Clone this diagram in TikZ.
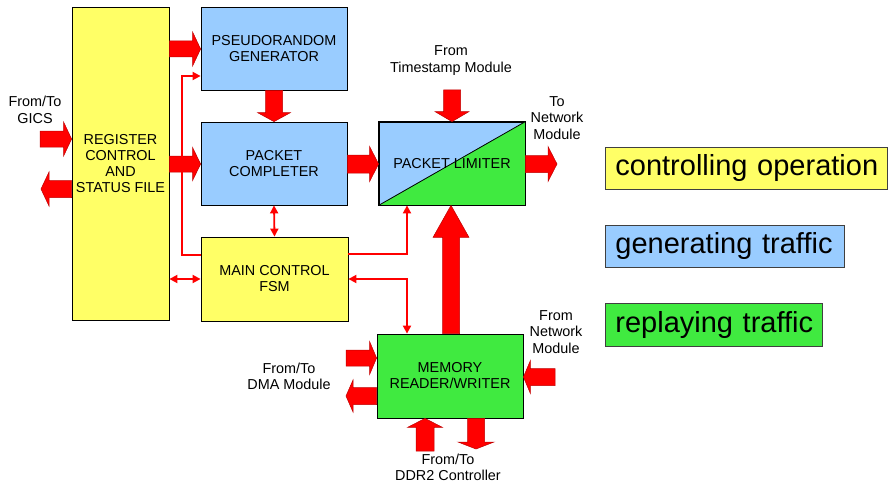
\documentclass[tikz,border=0pt]{standalone}
\usepackage{fontspec}
\setmainfont{Liberation Sans}
\usetikzlibrary{calc,arrows.meta}

\definecolor{ctrlyellow}{RGB}{255,255,102}
\definecolor{genblue}{RGB}{153,204,255}
\definecolor{repgreen}{RGB}{64,234,64}
\definecolor{fatred}{RGB}{255,0,0}

% fat block arrow: #1 start, #2 tip, #3 shaft half width, #4 head half width, #5 head length
\newcommand\fatarrow[5]{%
  \coordinate (fa-hb) at ($(#2)!#5pt!(#1)$);
  \filldraw[fill=fatred, draw=fatred!75!black, line width=0.5pt, line join=miter]
    ($(#1)!#3pt!90:(#2)$) -- ($(fa-hb)!#3pt!90:(#2)$) -- ($(fa-hb)!#4pt!90:(#2)$)
    -- (#2)
    -- ($(fa-hb)!#4pt!-90:(#2)$) -- ($(fa-hb)!#3pt!-90:(#2)$) -- ($(#1)!#3pt!-90:(#2)$)
    -- cycle;
}

\tikzset{
  blk/.style={draw=black, line width=0.8pt, inner sep=0pt, align=center,
    font=\fontsize{14.4}{16}\selectfont},
  lbl/.style={align=center, inner sep=0pt, font=\fontsize{14.4}{16.5}\selectfont},
  legend/.style={draw=black!75, line width=0.8pt, inner xsep=10pt, inner ysep=0pt,
    align=left, anchor=west, font=\fontsize{29}{32}\selectfont},
  thin/.style={draw=red, line width=1.8pt,
    {Triangle[length=8pt,width=8pt]}-{Triangle[length=8pt,width=8pt]}},
  thinend/.style={draw=red, line width=1.8pt, -{Triangle[length=8pt,width=8pt]}},
}

\begin{document}
\begin{tikzpicture}[x=1pt, y=-1pt]
\useasboundingbox (0,0) rectangle (890,484);

% blocks
\node[blk, fill=ctrlyellow, minimum width=97pt, minimum height=313pt] (reg) at (120.5,163.5)
  {REGISTER\\CONTROL\\AND\\STATUS FILE};
\node[blk, fill=genblue, minimum width=146pt, minimum height=83pt] (pr) at (274,48.5)
  {PSEUDORANDOM\\GENERATOR};
\node[blk, fill=genblue, minimum width=146pt, minimum height=83pt] (pc) at (274,163.5)
  {PACKET\\COMPLETER};
\node[blk, fill=ctrlyellow, minimum width=147pt, minimum height=84pt] (fsm) at (274.5,279)
  {MAIN CONTROL\\FSM};
\node[blk, fill=repgreen, minimum width=146pt, minimum height=84pt] (mem) at (450,376)
  {MEMORY\\READER/WRITER};

% packet limiter: split blue / green along its diagonal
\node[blk, fill=genblue, minimum width=146pt, minimum height=83pt] (pl) at (452,163.5) {};
\fill[repgreen] (pl.south west) -- (pl.north east) -- (pl.south east) -- cycle;
\draw[line width=0.8pt] (pl.south west) rectangle (pl.north east);
\draw[line width=0.8pt] (pl.south west) -- (pl.north east);
\node[lbl] at (pl.center) {PACKET LIMITER};

% legend
\node[legend, fill=ctrlyellow, minimum height=42pt, text width=262pt] (lg1) at (605,168)
  {\mbox{controlling operation}};
\node[legend, fill=genblue, minimum height=42pt, text width=219pt] (lg2) at (605,246)
  {\mbox{generating traffic}};
\node[legend, fill=repgreen, minimum height=43pt, text width=197pt] (lg3) at (605,324.5)
  {\mbox{replaying traffic}};

% outside labels
\node[lbl] (tgics) at (35,110) {From/To\\GICS};
\node[lbl] (tts) at (451,60.5) {From\\Timestamp Module};
\node[lbl] (tnetout) at (557,118) {To\\Network\\Module};
\node[lbl] (tnetin) at (556,332) {From\\Network\\Module};
\node[lbl] (tdma) at (289,376.5) {From/To\\DMA Module};
\node[lbl] (tddr) at (448,467.5) {From/To\\DDR2 Controller};

% free ends of the external block arrows
\coordinate (gicsin) at (40,139);
\coordinate (gicsout) at (41,189);
\coordinate (tsin) at (452,90);
\coordinate (netout) at (557,164);
\coordinate (dmain) at (346,358);
\coordinate (dmaout) at (346,396);
\coordinate (netin) at (555,377);
\coordinate (ddrin) at (425,451);
\coordinate (ddrout) at (476,449);

% block arrows (data paths)
\fatarrow{reg.east |- 0,49}{pr.west |- 0,49}{8}{17}{8}
\fatarrow{reg.east |- 0,164}{pc.west |- 0,164}{8}{16.5}{8}
\fatarrow{gicsin}{reg.west |- 0,139}{8}{17}{8}
\fatarrow{reg.west |- 0,189}{gicsout}{8.5}{17}{8}
\fatarrow{pr.south}{pc.north}{8.5}{16.5}{9}
\fatarrow{pc.east |- 0,164}{pl.west |- 0,164}{9}{17.5}{9}
\fatarrow{tsin}{pl.north}{8.5}{17}{10}
\fatarrow{pl.east |- 0,164}{netout}{8.5}{17.5}{9}
\fatarrow{mem.north -| 451,0}{pl.south -| 451,0}{8.5}{18}{32}
\fatarrow{dmain}{mem.west |- 0,358}{8}{16.5}{7}
\fatarrow{mem.west |- 0,396}{dmaout}{8.5}{16}{7}
\fatarrow{netin}{mem.east |- 0,377}{8.5}{16.5}{7}
\fatarrow{ddrin}{mem.south -| 425,0}{9}{17.5}{9}
\fatarrow{mem.south -| 476,0}{ddrout}{8.5}{18}{7}

% control lines
\draw[thinend] (fsm.west |- 0,255) -| (182,76) -- (pr.west |- 0,76);
\draw[thin] (pc.south) -- (fsm.north);
\draw[thin] (reg.east |- 0,279) -- (fsm.west |- 0,279);
\draw[thinend] (fsm.east |- 0,254) -| (pl.south -| 407,0);
\draw[thin] (fsm.east |- 0,279) -| (mem.north -| 407,0);
\end{tikzpicture}
\end{document}
